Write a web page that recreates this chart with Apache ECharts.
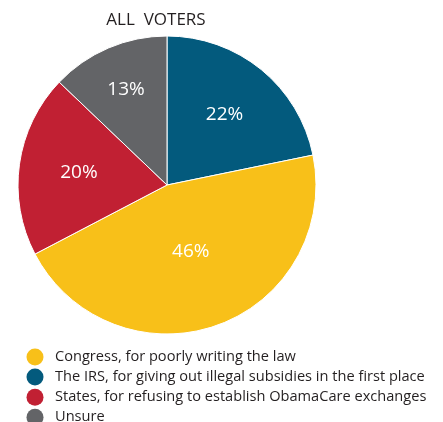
<!DOCTYPE html>
<html>
<head>
<meta charset="utf-8">
<script src="https://cdn.jsdelivr.net/npm/echarts@6/dist/echarts.min.js"></script>
<style>
html,body{margin:0;padding:0;background:#fff;}
#chart{width:443px;height:422px;}
</style>
</head>
<body>
<div id="chart"></div>
<script>
const titleText = 'ALL  VOTERS';
const categories = [
  'The IRS, for giving out illegal subsidies in the first place',
  'Congress, for poorly writing the law',
  'States, for refusing to establish ObamaCare exchanges',
  'Unsure'
];
const values = [22, 46, 20, 13];
const legendOrder = [
  'Congress, for poorly writing the law',
  'The IRS, for giving out illegal subsidies in the first place',
  'States, for refusing to establish ObamaCare exchanges',
  'Unsure'
];
const colors = ['#035a7d', '#f8c019', '#c12033', '#636467'];
const labelRadii = [91, 71, 89, 104];

const CX = 167, CY = 185, R = 149;
const chart = echarts.init(document.getElementById('chart'), null, {renderer: 'canvas'});
chart.setOption({
  animation: false,
  title: {
    text: titleText,
    left: 151,
    top: 7,
    textAlign: 'center',
    textStyle: {fontFamily: 'Open Sans', fontSize: 17, fontWeight: 'normal', color: '#231f20'}
  },
  legend: {
    data: legendOrder,
    orient: 'vertical',
    left: 26.5,
    top: 348.5,
    height: 120,
    icon: 'circle',
    itemWidth: 17,
    itemHeight: 17,
    itemGap: 3.1,
    padding: 0,
    itemStyle: {borderWidth: 0},
    textStyle: {fontFamily: 'Open Sans', fontSize: 14.6, color: '#231f20', padding: [0, 0, 0, 6.5]}
  },
  series: [{
    type: 'pie',
    center: [CX, CY],
    radius: [0, R],
    startAngle: 90,
    clockwise: true,
    data: categories.map((c, i) => ({name: c, value: values[i], itemStyle: {color: colors[i]}})),
    itemStyle: {borderColor: '#ffffff', borderWidth: 1},
    label: {
      show: true,
      position: 'inside',
      formatter: '{c}%',
      color: '#ffffff',
      fontFamily: 'Open Sans',
      fontSize: 19
    },
    labelLine: {show: false},
    labelLayout: function (p) {
      const r = p.labelRect;
      const lx = r.x + r.width / 2, ly = r.y + r.height / 2;
      const dx = lx - CX, dy = ly - CY;
      const d = Math.sqrt(dx * dx + dy * dy) || 1;
      const k = labelRadii[p.dataIndex] / d;
      return {dx: dx * k - dx, dy: dy * k - dy};
    }
  }]
});
</script>
</body>
</html>
